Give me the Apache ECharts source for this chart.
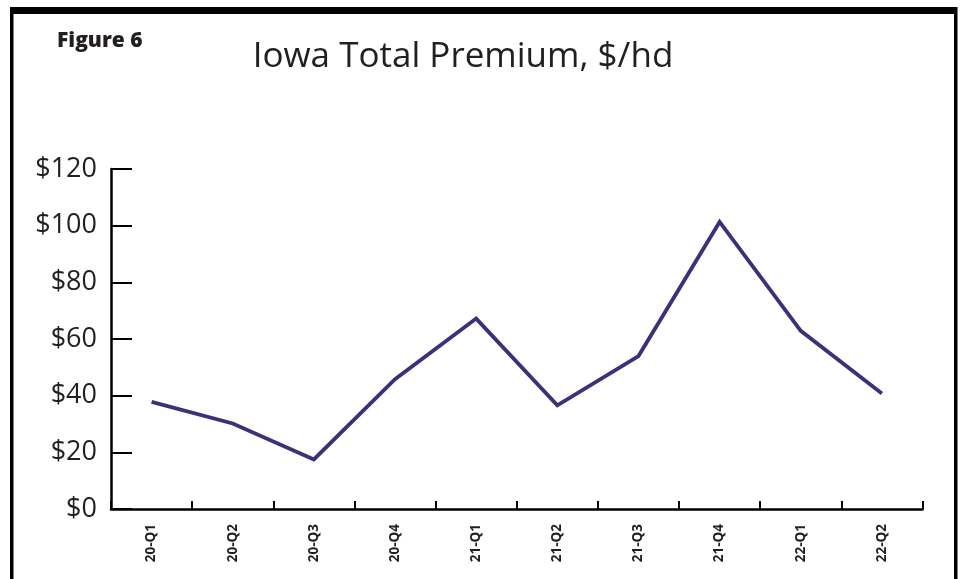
<!DOCTYPE html>
<html>
<head>
<meta charset="utf-8">
<script src="https://cdn.jsdelivr.net/npm/echarts@6/dist/echarts.min.js"></script>
<style>
html,body{margin:0;padding:0;background:#fff;}
#chart{width:963px;height:579px;}
</style>
</head>
<body>
<div id="chart"></div>
<script>
const categories = ['20-Q1','20-Q2','20-Q3','20-Q4','21-Q1','21-Q2','21-Q3','21-Q4','22-Q1','22-Q2'];
const premium = [37.8, 30.2, 17.5, 45.8, 67.2, 36.6, 54.0, 101.3, 62.9, 40.8];
const yTicks = [0, 20, 40, 60, 80, 100, 120];

const chart = echarts.init(document.getElementById('chart'));
const textColor = '#231f20';
chart.setOption({
  backgroundColor: '#fff',
  animation: false,
  title: [{
    text: 'Iowa Total Premium, $/hd',
    left: 458, top: 35, textAlign: 'center',
    textStyle: {fontFamily: 'Open Sans', fontWeight: 'normal', fontSize: 35, color: textColor}
  }, {
    text: 'Figure 6',
    left: 52, top: 26,
    textStyle: {fontFamily: 'Open Sans', fontWeight: 800, fontSize: 21, color: textColor}
  }],
  graphic: [
    {type: 'rect', shape: {x: 10, y: 7, width: 947, height: 7}, style: {fill: '#000'}},
    {type: 'rect', shape: {x: 10, y: 7, width: 3.5, height: 580}, style: {fill: '#000'}},
    {type: 'rect', shape: {x: 954, y: 7, width: 3.5, height: 580}, style: {fill: '#000'}}
  ],
  grid: {left: 111, right: 40.5, top: 169, bottom: 70},
  xAxis: {
    type: 'category',
    data: categories,
    boundaryGap: true,
    axisLine: {lineStyle: {color: '#000', width: 2.5}},
    axisTick: {show: true, inside: true, length: 8, alignWithLabel: false, lineStyle: {color: '#000', width: 2}},
    axisLabel: {
      rotate: 90, margin: 15, interval: 0,
      padding: [0, 0, 10, 0],
      fontFamily: 'Open Sans', fontWeight: 'bold', fontSize: 13.5, color: textColor
    },
    splitLine: {show: false}
  },
  yAxis: {
    type: 'value',
    min: 0, max: 120, interval: 20,
    axisLine: {show: true, lineStyle: {color: '#000', width: 2.5}},
    axisTick: {show: true, inside: true, length: 21, lineStyle: {color: '#000', width: 2}},
    axisLabel: {
      margin: 14,
      fontFamily: 'Open Sans', fontSize: 27, color: textColor,
      formatter: v => yTicks.includes(v) ? '$' + v : ''
    },
    splitLine: {show: false}
  },
  series: [{
    type: 'line',
    data: premium,
    showSymbol: false,
    symbol: 'none',
    lineStyle: {color: '#3a3178', width: 3.8, join: 'miter'},
    itemStyle: {color: '#3a3178'}
  }]
});
</script>
</body>
</html>
